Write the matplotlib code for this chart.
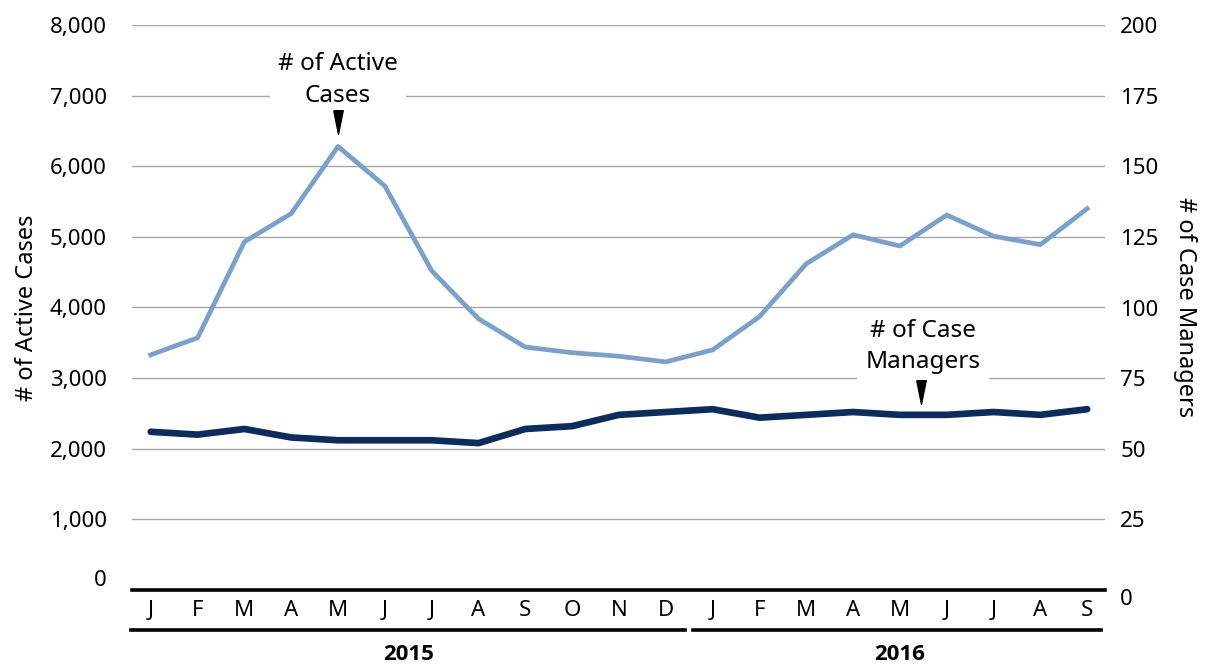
import matplotlib
matplotlib.use("Agg")
import matplotlib.pyplot as plt
import matplotlib.transforms as mtransforms

plt.rcParams['font.family'] = ['Noto Sans', 'DejaVu Sans']

MONTHS = ['J', 'F', 'M', 'A', 'M', 'J', 'J', 'A', 'S', 'O', 'N', 'D',
          'J', 'F', 'M', 'A', 'M', 'J', 'J', 'A', 'S']
YEARS = ['2015', '2016']
ACTIVE_CASES = [3330, 3570, 4930, 5330, 6280, 5720, 4520, 3840, 3440, 3360, 3310, 3230,
                3400, 3870, 4620, 5030, 4870, 5310, 5010, 4890, 5400]
CASE_MANAGERS = [56, 55, 57, 54, 53, 53, 53, 52, 57, 58, 62, 63,
                 64, 61, 62, 63, 62, 62, 63, 62, 64]

LIGHT = '#7AA1CC'
DARK = '#0B2C5C'
GRID = '#A6A6A6'
FS = 16
FS_NOTE = 17.5
WEDGE = [(-0.4, 1), (0.4, 1), (0, -1), (-0.4, 1)]

fig = plt.figure(figsize=(12.16, 6.67), dpi=100)
ax = fig.add_axes([132 / 1216, 1 - 590 / 667, (1105 - 132) / 1216, 565 / 667])
ax2 = ax.twinx()

x = list(range(len(MONTHS)))
ax.plot(x, ACTIVE_CASES, color=LIGHT, lw=3.4, zorder=3)
ax2.plot(x, CASE_MANAGERS, color=DARK, lw=4.8, zorder=3, solid_capstyle='round')

ax.set_xlim(-0.4, 20.38)
ax.set_ylim(0, 8000)
ax2.set_ylim(0, 200)
ax.set_yticks(range(0, 8001, 1000))
ax.set_yticklabels([f'{v:,}' for v in range(0, 8001, 1000)])
ax2.set_yticks(range(0, 201, 25))

for a in (ax, ax2):
    for s in ['top', 'left', 'right', 'bottom']:
        a.spines[s].set_visible(False)
    a.tick_params(length=0, labelsize=FS, colors='#000000')
ax.tick_params(axis='y', pad=18)
ax2.tick_params(axis='y', pad=11)

ax.grid(axis='y', color=GRID, lw=1)
ax.set_axisbelow(True)
ax.set_zorder(ax2.get_zorder() - 1)
ax2.patch.set_visible(False)
ax.axhline(0, color='black', lw=2.6, zorder=4, clip_on=False)

ax.set_xticks([])
trans = mtransforms.blended_transform_factory(ax.transData, ax.transAxes)
for i, m in enumerate(MONTHS):
    ax.text(i, -0.037, m, transform=trans, ha='center', va='center', fontsize=FS)
ax.plot([-0.42, 11.42], [-0.071, -0.071], transform=trans, color='black', lw=2.6, clip_on=False)
ax.plot([11.58, 20.3], [-0.071, -0.071], transform=trans, color='black', lw=2.6, clip_on=False)
for xc, yr in zip([5.5, 16], YEARS):
    ax.text(xc, -0.115, yr, transform=trans, ha='center', va='center', fontsize=FS,
            fontweight='bold', family=['Open Sans', 'DejaVu Sans'])

ax.set_ylabel('# of Active Cases', fontsize=17, labelpad=8)
ax2.set_ylabel('# of Case Managers', fontsize=17, rotation=270, labelpad=28)

# annotations
ax.text(4, 7220, '# of Active\nCases', ha='center', va='center', fontsize=FS_NOTE, linespacing=1.4,
        bbox=dict(facecolor='white', edgecolor='none', pad=6), zorder=5)
ax.plot([4], [6630], marker=WEDGE, color='black', markersize=17, zorder=5)
ax.text(16.5, 3450, '# of Case\nManagers', ha='center', va='center', fontsize=FS_NOTE, linespacing=1.4,
        bbox=dict(facecolor='white', edgecolor='none', pad=6), zorder=5)
ax.plot([16.45], [2800], marker=WEDGE, color='black', markersize=17, zorder=5)

# zero labels sit off the base line
fig.canvas.draw()
ax.get_yticklabels()[0].set_transform(ax.get_yticklabels()[0].get_transform() +
                                      mtransforms.ScaledTranslation(0, 12 / 100, fig.dpi_scale_trans))
ax2.get_yticklabels()[0].set_transform(ax2.get_yticklabels()[0].get_transform() +
                                       mtransforms.ScaledTranslation(0, -7 / 100, fig.dpi_scale_trans))

fig.savefig('out.png', dpi=100)
